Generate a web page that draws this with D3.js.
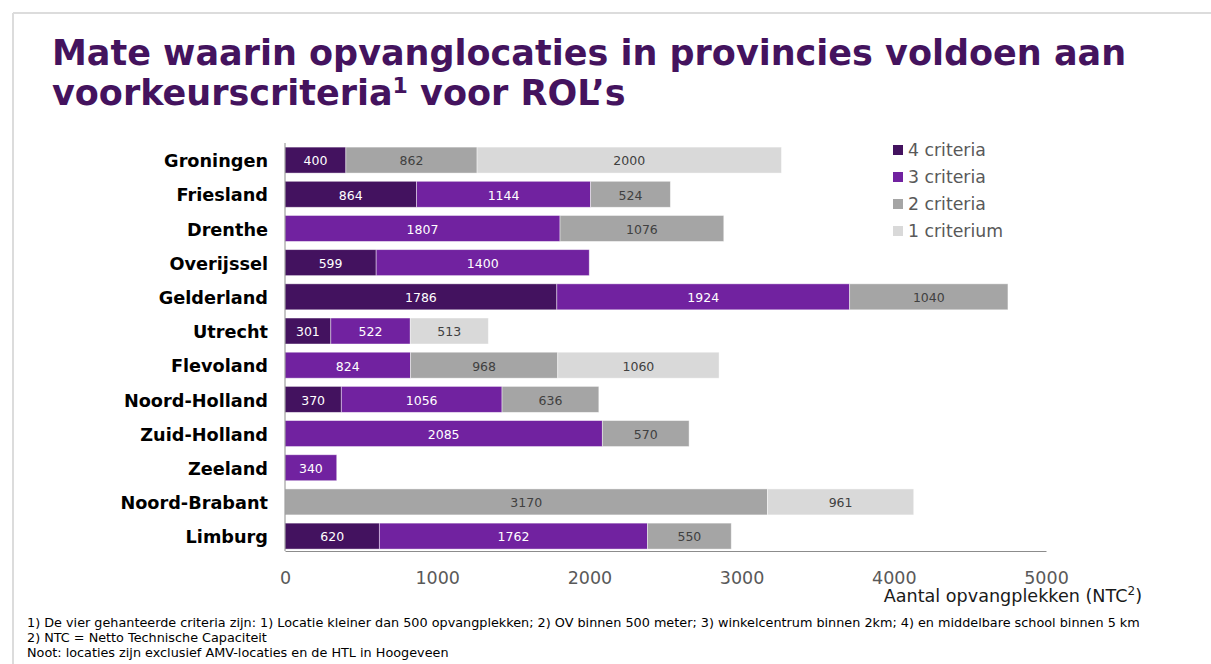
<!DOCTYPE html>
<html>
<head>
<meta charset="utf-8">
<script src="https://cdn.jsdelivr.net/npm/d3@7"></script>
<style>
  body { margin: 0; background: #fff; }
  svg { display: block; font-family: "DejaVu Sans", Verdana, sans-serif; }
</style>
</head>
<body>
<svg id="svg" width="1211" height="664"></svg>
<script>
// provinces, top to bottom
var provinces = ["Groningen", "Friesland", "Drenthe", "Overijssel", "Gelderland", "Utrecht",
  "Flevoland", "Noord-Holland", "Zuid-Holland", "Zeeland", "Noord-Brabant", "Limburg"];

var seriesNames = ["4 criteria", "3 criteria", "2 criteria", "1 criterium"];

// places (NTC) per number of criteria met
var crit4 = [400, 864, 0, 599, 1786, 301, 0, 370, 0, 0, 0, 620];
var crit3 = [0, 1144, 1807, 1400, 1924, 522, 824, 1056, 2085, 340, 0, 1762];
var crit2 = [862, 524, 1076, 0, 1040, 0, 968, 636, 570, 0, 3170, 550];
var crit1 = [2000, 0, 0, 0, 0, 513, 1060, 0, 0, 0, 961, 0];

var xTicks = [0, 1000, 2000, 3000, 4000, 5000];

var colors = ["#43125f", "#7122a0", "#a5a5a5", "#d9d9d9"];
var labelColors = ["#fff", "#fff", "#404040", "#404040"];

var rows = provinces.map(function(p, i) {
  return { name: p, values: [crit4[i], crit3[i], crit2[i], crit1[i]] };
});

var svg = d3.select("#svg");

// page frame
svg.append("line").attr("x1", 13).attr("y1", 13).attr("x2", 1211).attr("y2", 13)
  .attr("stroke", "#dcdcdc").attr("stroke-width", 2);
svg.append("line").attr("x1", 13).attr("y1", 13).attr("x2", 13).attr("y2", 664)
  .attr("stroke", "#dcdcdc").attr("stroke-width", 2);

// title
var title = svg.append("text").attr("x", 52).attr("y", 65)
  .attr("fill", "#44135e").attr("font-weight", "bold").attr("font-size", 35);
title.append("tspan").text("Mate waarin opvanglocaties in provincies voldoen aan");
var t2 = svg.append("text").attr("x", 52).attr("y", 105)
  .attr("fill", "#44135e").attr("font-weight", "bold").attr("font-size", 35);
t2.append("tspan").text("voorkeurscriteria");
t2.append("tspan").attr("font-size", 22).attr("dy", -12).text("1");
t2.append("tspan").attr("dy", 12).text(" voor ROL’s");

var x = d3.scaleLinear().domain([0, 5000]).range([285, 1046]);
var y = d3.scaleBand().domain(provinces).range([143, 553.2])
  .paddingInner(0.24).paddingOuter(0.12);

// stacked segments
var stack = d3.stack().keys([0, 1, 2, 3]).value(function(d, k) { return d.values[k]; });
var layers = stack(rows);

var g = svg.append("g");
layers.forEach(function(layer, k) {
  var segs = layer.filter(function(d) { return d[1] - d[0] > 0; });
  g.selectAll(".seg" + k).data(segs).enter().append("rect")
    .attr("x", function(d) { return x(d[0]); })
    .attr("y", function(d) { return y(d.data.name); })
    .attr("width", function(d) { return x(d[1]) - x(d[0]); })
    .attr("height", y.bandwidth())
    .attr("fill", colors[k])
    .attr("stroke", "rgba(255,255,255,0.55)")
    .attr("stroke-width", 0.8);
  g.selectAll(".lab" + k).data(segs).enter().append("text")
    .attr("x", function(d) { return (x(d[0]) + x(d[1])) / 2; })
    .attr("y", function(d) { return y(d.data.name) + y.bandwidth() / 2 + 1; })
    .attr("dy", "0.35em")
    .attr("text-anchor", "middle")
    .attr("font-size", 12.5)
    .attr("fill", labelColors[k])
    .text(function(d) { return d[1] - d[0]; });
});

// category labels
svg.append("g").selectAll("text").data(provinces).enter().append("text")
  .attr("x", 268)
  .attr("y", function(d) { return y(d) + y.bandwidth() / 2 + 1; })
  .attr("dy", "0.35em")
  .attr("text-anchor", "end")
  .attr("font-weight", "bold")
  .attr("font-size", 17.7)
  .attr("fill", "#000")
  .text(function(d) { return d; });

// axes lines
svg.append("line").attr("x1", 285).attr("x2", 285).attr("y1", 143).attr("y2", 551)
  .attr("stroke", "#8c8c8c").attr("stroke-width", 1);
var xAxis = svg.append("g").attr("transform", "translate(0,551)")
  .call(d3.axisBottom(x).tickValues(xTicks).tickFormat(d3.format("d")).tickSize(0).tickPadding(21));
xAxis.select(".domain").attr("stroke", "#8c8c8c");
xAxis.selectAll("text").attr("font-size", 17.5).attr("fill", "#595959")
  .attr("font-family", "DejaVu Sans, Verdana, sans-serif");

var axTitle = svg.append("text").attr("x", 1142).attr("y", 602)
  .attr("text-anchor", "end").attr("font-size", 17.6).attr("fill", "#1a1a1a");
axTitle.append("tspan").text("Aantal opvangplekken (NTC");
axTitle.append("tspan").attr("font-size", 12).attr("dy", -7).text("2");
axTitle.append("tspan").attr("dy", 7).text(")");

// legend
var legend = svg.append("g").selectAll("g").data(seriesNames).enter().append("g")
  .attr("transform", function(d, i) { return "translate(893," + (150 + i * 27) + ")"; });
legend.append("rect").attr("x", 0).attr("y", -5).attr("width", 10).attr("height", 10)
  .attr("fill", function(d, i) { return colors[i]; });
legend.append("text").attr("x", 15).attr("dy", "0.35em")
  .attr("font-size", 17.3).attr("fill", "#595959")
  .text(function(d) { return d; });

// footnotes
var notes = [
  "1) De vier gehanteerde criteria zijn: 1) Locatie kleiner dan 500 opvangplekken; 2) OV binnen 500 meter; 3) winkelcentrum binnen 2km; 4) en middelbare school binnen 5 km",
  "2) NTC = Netto Technische Capaciteit",
  "Noot: locaties zijn exclusief AMV-locaties en de HTL in Hoogeveen"
];
svg.append("g").selectAll("text").data(notes).enter().append("text")
  .attr("x", 27)
  .attr("y", function(d, i) { return 627 + i * 15; })
  .attr("font-size", 12.8)
  .attr("fill", "#000")
  .text(function(d) { return d; });
</script>
</body>
</html>
